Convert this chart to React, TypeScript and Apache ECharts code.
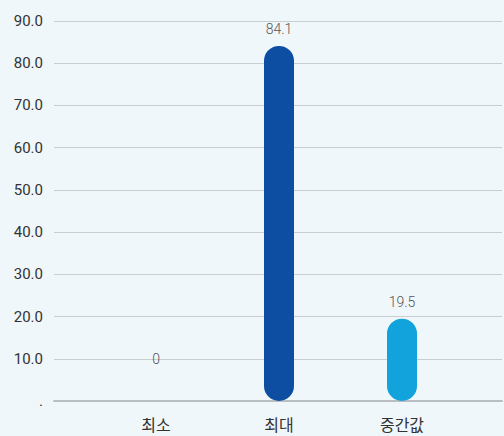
import React, { useEffect, useRef } from "react";
import * as echarts from "echarts";

const categories = ["최소", "최대", "중간값"];
const values = [0, 84.1, 19.5];
const barColors = ["#0d4ea3", "#0d4ea3", "#12a2dc"];
const yMin = 0;
const yMax = 90;
const yStep = 10;

export default function App() {
  const ref = useRef<HTMLDivElement>(null);
  useEffect(() => {
    if (!ref.current) return;
    const chart = echarts.init(ref.current, undefined, { renderer: "svg" });
    const font = "Roboto, 'Noto Sans', sans-serif";
    chart.setOption({
      animation: false,
      backgroundColor: "#f0f7fa",
      grid: [
        { left: 54, right: 2, top: 21, bottom: 35, containLabel: false },
        { left: 94.5, right: 40.5, top: 21, bottom: 35, containLabel: false },
      ],
      xAxis: [
        {
          type: "category",
          gridIndex: 0,
          data: categories,
          axisLine: { show: true, lineStyle: { color: "#b9bec2", width: 2 } },
          axisTick: { show: false },
          axisLabel: { show: false },
        },
        {
          type: "category",
          gridIndex: 1,
          data: categories,
          axisLine: { show: false },
          axisTick: { show: false },
          axisLabel: {
            color: "#333333",
            fontSize: 16,
            lineHeight: 16,
            margin: 15,
            fontFamily: "'Noto Sans CJK KR', 'Noto Sans', sans-serif",
          },
        },
      ],
      yAxis: [
        {
          type: "value",
          gridIndex: 0,
          min: yMin,
          max: yMax,
          interval: yStep,
          axisLine: { show: false },
          axisTick: { show: false },
          splitLine: { lineStyle: { color: "#c9ced2", width: 1 } },
          axisLabel: {
            color: "#333333",
            fontSize: 15,
            margin: 11,
            fontFamily: font,
            formatter: (v: number) => (v === 0 ? "." : v.toFixed(1)),
          },
        },
        {
          type: "value",
          gridIndex: 1,
          min: yMin,
          max: yMax,
          interval: yStep,
          show: false,
        },
      ],
      series: [
        {
          type: "bar",
          xAxisIndex: 1,
          yAxisIndex: 1,
          barWidth: 30,
          data: values.map((v, i) => ({
            value: v,
            itemStyle: { color: barColors[i], borderRadius: 15 },
            label: v === 0 ? { distance: 35 } : undefined,
          })),
          label: {
            show: true,
            position: "top",
            distance: 10,
            color: "#555555",
            fontSize: 14,
            fontWeight: 300,
            fontFamily: font,
            formatter: (p: any) => String(p.value),
          },
        },
      ],
    });
    return () => chart.dispose();
  }, []);
  return (
    <div
      ref={ref}
      style={{ position: "fixed", left: 0, top: 0, width: 504, height: 436 }}
    />
  );
}
